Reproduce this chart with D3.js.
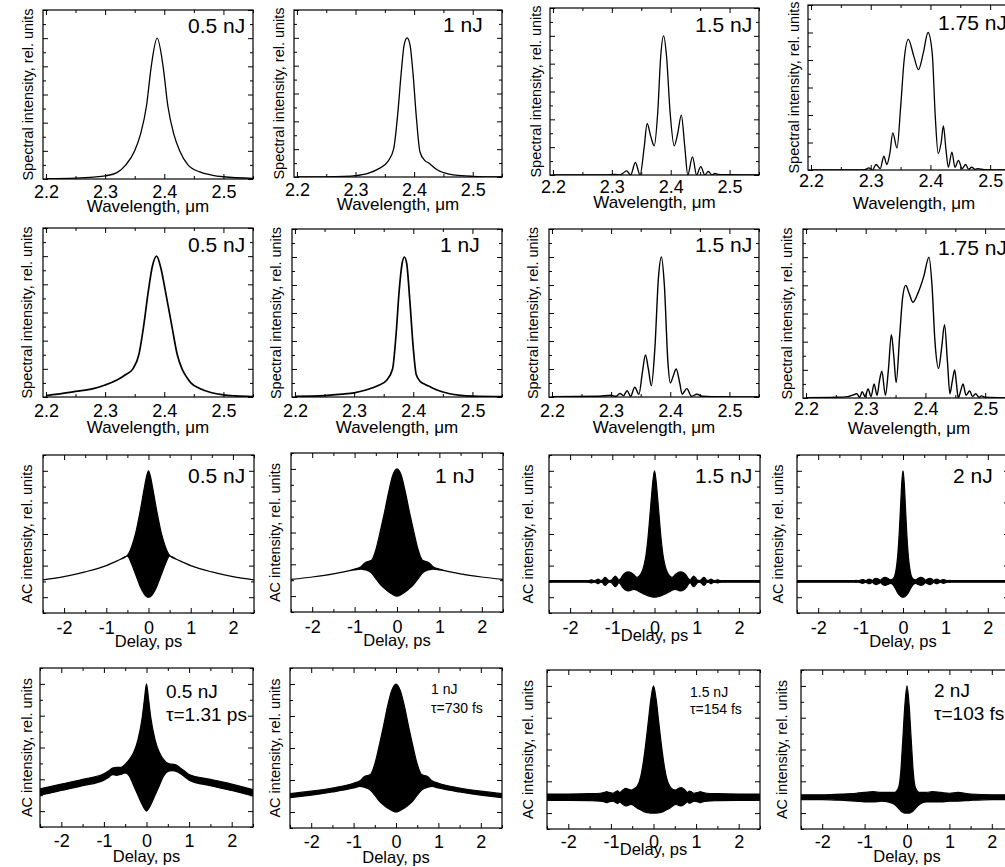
<!DOCTYPE html>
<html><head><meta charset="utf-8">
<script src="https://cdn.jsdelivr.net/npm/d3@7"></script>
<style>body{margin:0;background:#fff}svg{display:block;font-family:"Liberation Sans",Arial,sans-serif}</style>
</head><body><svg id="c" width="1005" height="867"></svg>
<script>
// ---------- tick labels ----------
const wlTicks = [2.2, 2.3, 2.4, 2.5];
const wlMinor = [2.25, 2.35, 2.45, 2.55];
const delayTicks = [-2, -1, 0, 1, 2];
const delayMinor = [-2.5, -1.5, -0.5, 0.5, 1.5, 2.5];
const specYMajor = [0, 0.2, 0.4, 0.6, 0.8, 1.0, 1.2];
const specYMinor = [0.1, 0.3, 0.5, 0.7, 0.9, 1.1];
const acYMajor = [0, 2, 4, 6, 8];
const acYMinor = [-1, 1, 3, 5, 7, 9];

// ---------- row 1: calculated spectra ----------
const calc05_wl = [2.20,2.25,2.28,2.30,2.32,2.335,2.35,2.36,2.37,2.378,2.388,2.398,2.406,2.416,2.426,2.44,2.46,2.48,2.50,2.55];
const calc05_I  = [0.002,0.006,0.013,0.022,0.045,0.1,0.2,0.32,0.52,0.8,1.0,0.8,0.52,0.32,0.2,0.1,0.05,0.028,0.016,0.005];
const calc10_wl = [2.20,2.28,2.30,2.32,2.34,2.355,2.365,2.372,2.378,2.383,2.388,2.393,2.398,2.404,2.41,2.418,2.425,2.44,2.46,2.48,2.50,2.55];
const calc10_I  = [0.0,0.005,0.01,0.025,0.06,0.11,0.2,0.45,0.75,0.95,1.0,0.95,0.75,0.42,0.18,0.12,0.1,0.05,0.02,0.01,0.005,0.0];
const calc15_wl = [2.20,2.29,2.305,2.313,2.318,2.325,2.332,2.34,2.348,2.355,2.36,2.366,2.372,2.378,2.383,2.388,2.393,2.399,2.406,2.412,2.418,2.424,2.429,2.437,2.444,2.451,2.458,2.464,2.47,2.475,2.48,2.49,2.55];
const calc15_I  = [0,0,0.005,0.0,0.01,0.03,0.0,0.09,0.0,0.2,0.37,0.28,0.21,0.45,0.85,1.0,0.85,0.45,0.21,0.3,0.43,0.2,0.0,0.13,0.0,0.06,0.0,0.025,0.0,0.012,0.005,0.002,0];
const calc175_wl = [2.20,2.28,2.29,2.297,2.303,2.309,2.316,2.322,2.327,2.332,2.337,2.344,2.35,2.356,2.363,2.372,2.380,2.388,2.396,2.403,2.408,2.413,2.418,2.4217,2.426,2.430,2.436,2.441,2.447,2.453,2.459,2.464,2.469,2.475,2.48,2.49,2.55];
const calc175_I  = [0,0,0.002,0.015,0.0,0.04,0.01,0.1,0.04,0.12,0.27,0.16,0.45,0.8,0.95,0.83,0.73,0.85,1.0,0.85,0.4,0.12,0.2,0.32,0.15,0.02,0.13,0.02,0.07,0.01,0.04,0.005,0.02,0.005,0.01,0.003,0];

// ---------- row 2: measured spectra ----------
const meas05_wl = [2.20,2.22,2.25,2.28,2.30,2.32,2.335,2.347,2.357,2.365,2.373,2.38,2.387,2.394,2.402,2.413,2.422,2.43,2.438,2.445,2.46,2.48,2.50,2.52,2.55];
const meas05_I  = [0.01,0.02,0.04,0.06,0.085,0.12,0.16,0.2,0.3,0.5,0.75,0.93,1.0,0.92,0.75,0.5,0.3,0.2,0.14,0.1,0.06,0.03,0.015,0.008,0.003];
const meas10_wl = [2.20,2.25,2.28,2.30,2.32,2.34,2.355,2.365,2.371,2.376,2.381,2.385,2.389,2.394,2.40,2.405,2.412,2.42,2.43,2.44,2.46,2.48,2.50,2.55];
const meas10_I  = [0.005,0.01,0.02,0.03,0.05,0.08,0.12,0.2,0.45,0.75,0.95,1.0,0.95,0.7,0.35,0.16,0.11,0.09,0.07,0.05,0.025,0.012,0.006,0.002];
const meas15_wl = [2.20,2.28,2.30,2.308,2.315,2.321,2.327,2.333,2.34,2.347,2.353,2.358,2.363,2.368,2.374,2.38,2.385,2.39,2.396,2.40,2.405,2.41,2.416,2.42,2.428,2.436,2.445,2.455,2.47,2.55];
const meas15_I  = [0.002,0.005,0.012,0.005,0.025,0.01,0.045,0.005,0.07,0.02,0.18,0.3,0.2,0.08,0.35,0.85,1.0,0.8,0.25,0.1,0.15,0.2,0.1,0.02,0.06,0.005,0.02,0.005,0.002,0];
const meas175_wl = [2.20,2.25,2.27,2.278,2.285,2.29,2.294,2.299,2.304,2.309,2.314,2.319,2.323,2.327,2.333,2.338,2.343,2.347,2.351,2.357,2.362,2.367,2.373,2.379,2.388,2.397,2.406,2.411,2.416,2.422,2.427,2.432,2.437,2.441,2.445,2.449,2.452,2.455,2.459,2.463,2.468,2.474,2.479,2.484,2.49,2.494,2.50,2.55];
const meas175_I  = [0.002,0.005,0.01,0.02,0.03,0.005,0.045,0.01,0.065,0.01,0.1,0.02,0.12,0.19,0.02,0.2,0.45,0.3,0.11,0.45,0.72,0.8,0.74,0.68,0.75,0.86,1.0,0.8,0.4,0.21,0.35,0.52,0.25,0.03,0.12,0.2,0.1,0.0,0.05,0.1,0.02,0.05,0.01,0.03,0.005,0.015,0.005,0];

// ---------- row 3: calculated autocorrelations (upper / lower envelopes) ----------
const acCalc05_t  = [-2.5,-2,-1.5,-1,-0.7,-0.5,-0.4,-0.3,-0.2,-0.1,-0.05,0,0.05,0.1,0.2,0.3,0.4,0.5,0.7,1,1.5,2,2.5];
const acCalc05_up = [1.1,1.3,1.6,2.0,2.35,2.65,3.2,4.1,5.4,6.9,7.6,8.0,7.6,6.9,5.4,4.1,3.2,2.65,2.35,2.0,1.6,1.3,1.1];
const acCalc05_lo = [1.1,1.3,1.6,2.0,2.35,2.6,2.1,1.4,0.7,0.2,0.05,0,0.05,0.2,0.7,1.4,2.1,2.6,2.35,2.0,1.6,1.3,1.1];
const acCalc10_t  = [-2.5,-2,-1.5,-1,-0.85,-0.75,-0.65,-0.6,-0.5,-0.4,-0.3,-0.2,-0.1,0,0.1,0.2,0.3,0.4,0.5,0.6,0.65,0.75,0.85,1,1.5,2,2.5];
const acCalc10_up = [1.05,1.2,1.4,1.7,1.85,2.1,2.2,2.25,2.9,4.0,5.2,6.5,7.6,8.0,7.6,6.5,5.2,4.0,2.9,2.25,2.2,2.1,1.85,1.7,1.4,1.2,1.05];
const acCalc10_lo = [1.05,1.2,1.4,1.65,1.7,1.65,1.55,1.45,1.1,0.75,0.5,0.27,0.1,0,0.1,0.27,0.5,0.75,1.1,1.45,1.55,1.65,1.7,1.65,1.4,1.2,1.05];
const acCalc15_t  = [-2.5,-1.8,-1.6,-1.53,-1.5,-1.47,-1.41,-1.37,-1.34,-1.31,-1.27,-1.23,-1.2,-1.17,-1.14,-1.1,-1.06,-1.02,-0.98,-0.93,-0.88,-0.85,-0.81,-0.75,-0.69,-0.62,-0.55,-0.48,-0.42,-0.36,-0.3,-0.25,-0.2,-0.16,-0.12,-0.08,-0.04,0,0.04,0.08,0.12,0.16,0.2,0.25,0.3,0.36,0.42,0.48,0.55,0.62,0.69,0.75,0.81,0.85,0.88,0.93,0.98,1.02,1.06,1.1,1.14,1.17,1.2,1.23,1.27,1.31,1.34,1.37,1.41,1.47,1.5,1.53,1.6,1.8,2.5];
const acCalc15_up = [1.05,1.05,1.05,1.07,1.1,1.08,1.05,1.1,1.15,1.1,1.05,1.08,1.2,1.25,1.2,1.08,1.05,1.08,1.2,1.33,1.2,1.08,1.15,1.4,1.55,1.6,1.55,1.4,1.25,1.35,1.6,2.0,2.7,3.6,4.8,6.1,7.3,8.0,7.3,6.1,4.8,3.6,2.7,2.0,1.6,1.35,1.25,1.4,1.55,1.6,1.55,1.4,1.15,1.08,1.2,1.33,1.2,1.08,1.05,1.08,1.2,1.25,1.2,1.08,1.05,1.1,1.15,1.1,1.05,1.08,1.1,1.07,1.05,1.05,1.05];
const acCalc15_lo = [0.95,0.95,0.95,0.93,0.9,0.92,0.95,0.9,0.85,0.9,0.95,0.92,0.8,0.75,0.8,0.92,0.95,0.92,0.8,0.67,0.8,0.92,0.85,0.6,0.45,0.4,0.45,0.5,0.45,0.35,0.27,0.2,0.14,0.1,0.06,0.03,0.01,0,0.01,0.03,0.06,0.1,0.14,0.2,0.27,0.35,0.45,0.5,0.45,0.4,0.45,0.6,0.85,0.92,0.8,0.67,0.8,0.92,0.95,0.92,0.8,0.75,0.8,0.92,0.95,0.9,0.85,0.9,0.95,0.92,0.9,0.93,0.95,0.95,0.95];
const acCalc20_t  = [-2.5,-1.5,-1.2,-1.1,-1.05,-1.0,-0.96,-0.92,-0.88,-0.84,-0.8,-0.76,-0.72,-0.68,-0.63,-0.58,-0.53,-0.48,-0.42,-0.36,-0.3,-0.24,-0.19,-0.15,-0.12,-0.09,-0.06,-0.03,0,0.03,0.06,0.09,0.12,0.15,0.19,0.24,0.3,0.36,0.42,0.48,0.53,0.58,0.63,0.68,0.72,0.76,0.8,0.84,0.88,0.92,0.96,1.0,1.05,1.1,1.2,1.5,2.5];
const acCalc20_up = [1.05,1.05,1.05,1.06,1.05,1.08,1.12,1.1,1.05,1.1,1.15,1.12,1.06,1.15,1.2,1.15,1.08,1.2,1.25,1.2,1.1,1.15,1.4,2.0,2.8,4.0,5.6,7.2,8.0,7.2,5.6,4.0,2.8,2.0,1.4,1.15,1.1,1.2,1.25,1.2,1.08,1.15,1.2,1.15,1.06,1.12,1.15,1.1,1.05,1.1,1.12,1.08,1.05,1.06,1.05,1.05,1.05];
const acCalc20_lo = [0.95,0.95,0.95,0.94,0.95,0.92,0.88,0.9,0.95,0.9,0.85,0.88,0.94,0.85,0.8,0.85,0.92,0.8,0.75,0.8,0.88,0.8,0.6,0.4,0.25,0.15,0.08,0.02,0,0.02,0.08,0.15,0.25,0.4,0.6,0.8,0.88,0.8,0.75,0.8,0.92,0.85,0.8,0.85,0.94,0.88,0.85,0.9,0.95,0.9,0.88,0.92,0.95,0.94,0.95,0.95,0.95];

// ---------- row 4: measured autocorrelations (noise band envelopes) ----------
const acMeas05_t  = [-2.5,-2,-1.5,-1,-0.9,-0.8,-0.7,-0.6,-0.5,-0.4,-0.3,-0.2,-0.1,-0.05,0,0.05,0.1,0.2,0.3,0.4,0.5,0.6,0.7,0.8,0.9,1,1.5,2,2.5];
const acMeas05_up = [1.4,1.7,2.0,2.35,2.5,2.7,2.75,2.75,2.95,3.25,3.7,4.5,5.9,7.0,8.0,7.0,5.9,4.5,3.7,3.25,3.0,2.95,2.9,2.7,2.5,2.3,2.0,1.7,1.35];
const acMeas05_lo = [1.0,1.3,1.6,1.95,2.1,2.3,2.25,2.3,2.4,2.2,1.6,1.0,0.4,0.15,0,0.15,0.4,1.0,1.6,2.2,2.5,2.55,2.5,2.35,2.15,1.95,1.6,1.3,0.95];
const acMeas10_t  = [-2.5,-2,-1.5,-1,-0.85,-0.75,-0.65,-0.6,-0.5,-0.4,-0.3,-0.2,-0.1,0,0.1,0.2,0.3,0.4,0.5,0.6,0.65,0.75,0.85,1,1.5,2,2.5];
const acMeas10_up = [1.15,1.3,1.5,1.8,1.95,2.2,2.3,2.35,3.0,4.1,5.3,6.6,7.6,8.0,7.6,6.6,5.3,4.1,3.0,2.35,2.3,2.2,1.95,1.8,1.5,1.3,1.15];
const acMeas10_lo = [0.9,1.05,1.25,1.5,1.6,1.55,1.45,1.35,1.05,0.7,0.45,0.25,0.1,0,0.1,0.25,0.45,0.7,1.05,1.35,1.45,1.55,1.6,1.5,1.25,1.05,0.9];
const acMeas15_t  = [-2.5,-2,-1.5,-1.25,-1.15,-1.1,-1.05,-0.95,-0.88,-0.84,-0.8,-0.72,-0.65,-0.58,-0.52,-0.45,-0.38,-0.3,-0.24,-0.18,-0.12,-0.06,0,0.06,0.12,0.18,0.24,0.3,0.38,0.45,0.52,0.58,0.65,0.72,0.8,0.84,0.88,0.95,1.05,1.1,1.15,1.25,1.5,2,2.5];
const acMeas15_up = [1.2,1.2,1.22,1.25,1.3,1.35,1.3,1.25,1.35,1.4,1.3,1.45,1.55,1.5,1.45,1.55,1.7,2.3,3.2,4.4,5.8,7.2,8.0,7.2,5.8,4.4,3.2,2.3,1.7,1.5,1.45,1.55,1.6,1.5,1.3,1.38,1.35,1.25,1.3,1.35,1.3,1.25,1.22,1.2,1.2];
const acMeas15_lo = [0.8,0.8,0.78,0.75,0.7,0.65,0.7,0.75,0.65,0.6,0.7,0.55,0.45,0.5,0.55,0.45,0.3,0.2,0.1,0.05,0.02,0.0,0,0.0,0.02,0.05,0.1,0.2,0.3,0.45,0.55,0.5,0.45,0.55,0.7,0.62,0.65,0.75,0.7,0.65,0.7,0.75,0.78,0.8,0.8];
const acMeas20_t  = [-2.5,-2,-1.5,-1.2,-1,-0.8,-0.6,-0.45,-0.3,-0.2,-0.15,-0.1,-0.05,0,0.05,0.1,0.15,0.2,0.3,0.45,0.6,0.8,1,1.2,1.5,2,2.5];
const acMeas20_up = [1.15,1.15,1.2,1.25,1.3,1.35,1.3,1.3,1.3,1.6,2.5,4.6,6.8,8.0,6.8,4.6,2.5,1.6,1.3,1.3,1.35,1.3,1.25,1.3,1.2,1.15,1.15];
const acMeas20_lo = [0.85,0.85,0.8,0.75,0.7,0.7,0.75,0.7,0.55,0.3,0.15,0.05,0.0,0.0,0.0,0.05,0.15,0.3,0.55,0.7,0.7,0.7,0.75,0.75,0.8,0.85,0.85];

// ---------- annotations ----------
const specLabels = ['0.5 nJ', '1 nJ', '1.5 nJ', '1.75 nJ'];
const acLabels = ['0.5 nJ', '1 nJ', '1.5 nJ', '2 nJ'];
const durLabels = ['\u03c4=1.31 ps', '\u03c4=730 fs', '\u03c4=154 fs', '\u03c4=103 fs'];

// ---------- layout (positions only) ----------
const FONT = '"Liberation Sans", Arial, sans-serif';
const svg = d3.select('#c');
const zip2 = (a, b) => a.map((v, i) => ({x: v, y: b[i]}));
const zip3 = (t, u, l) => t.map((v, i) => ({t: v, up: u[i], lo: l[i]}));

const panels = [
  {r:[43,10,210,169], kind:'spec', d:zip2(calc05_wl,calc05_I), lab:[specLabels[0]], lx:188, ly:[33], fs:21, tb:19, tt:33, yt:-10, sw:1.3},
  {r:[294,10,208,167], kind:'spec', d:zip2(calc10_wl,calc10_I), lab:[specLabels[1]], lx:443, ly:[32], fs:21, tb:19, tt:33, yt:-10, sw:1.3},
  {r:[550,8,209,167], kind:'spec', d:zip2(calc15_wl,calc15_I), lab:[specLabels[2]], lx:695, ly:[32], fs:21, tb:18, tt:33, yt:-9, sw:1.3},
  {r:[808,5,212,165], kind:'spec', d:zip2(calc175_wl,calc175_I), lab:[specLabels[3]], lx:938, ly:[30], fs:21, tb:17, tt:39, yt:-9, sw:1.3},
  {r:[43,228,210,169], kind:'spec', d:zip2(meas05_wl,meas05_I), lab:[specLabels[0]], lx:188, ly:[252], fs:21, tb:20, tt:36, yt:-11, sw:1.7},
  {r:[292,229,210,168], kind:'spec', d:zip2(meas10_wl,meas10_I), lab:[specLabels[1]], lx:440, ly:[252], fs:21, tb:20, tt:36, yt:-11, sw:1.7},
  {r:[549,229,210,168], kind:'spec', d:zip2(meas15_wl,meas15_I), lab:[specLabels[2]], lx:695, ly:[252], fs:21, tb:20, tt:36, yt:-11, sw:1.4},
  {r:[803,229,212,169], kind:'spec', d:zip2(meas175_wl,meas175_I), lab:[specLabels[3]], lx:938, ly:[255], fs:21, tb:17, tt:36, yt:-11, sw:1.4},
  {r:[43,455,211,158], kind:'ac', d:zip3(acCalc05_t,acCalc05_up,acCalc05_lo), lab:[acLabels[0]], lx:188, ly:[483], fs:21, tb:21, tt:34, yt:-11},
  {r:[291,453,212,159], kind:'ac', d:zip3(acCalc10_t,acCalc10_up,acCalc10_lo), lab:[acLabels[1]], lx:435, ly:[483], fs:21, tb:21, tt:34, yt:-11},
  {r:[549,455,211,158], kind:'ac', d:zip3(acCalc15_t,acCalc15_up,acCalc15_lo), lab:[acLabels[2]], lx:695, ly:[483], fs:21, tb:21, tt:28, yt:-16},
  {r:[797,455,212,158], kind:'ac', d:zip3(acCalc20_t,acCalc20_up,acCalc20_lo), lab:[acLabels[3]], lx:953, ly:[483], fs:21, tb:21, tt:34, yt:-14},
  {r:[40,668,213,159], kind:'ac', d:zip3(acMeas05_t,acMeas05_up,acMeas05_lo), lab:[acLabels[0],durLabels[0]], lx:166, ly:[698,721], fs:19, tb:20, tt:35, yt:-8},
  {r:[290,668,212,160], kind:'ac', d:zip3(acMeas10_t,acMeas10_up,acMeas10_lo), lab:[acLabels[1],durLabels[1]], lx:431, ly:[694,713], fs:14, tb:20, tt:35, yt:-10},
  {r:[547,670,213,159], kind:'ac', d:zip3(acMeas15_t,acMeas15_up,acMeas15_lo), lab:[acLabels[2],durLabels[2]], lx:690, ly:[697,714], fs:14, tb:19, tt:26, yt:-14},
  {r:[801,670,212,159], kind:'ac', d:zip3(acMeas20_t,acMeas20_up,acMeas20_lo), lab:[acLabels[3],durLabels[3]], lx:934, ly:[697,720], fs:19, tb:19, tt:33, yt:-14}
];

panels.forEach((p, i) => {
  const [px, py, w, h] = p.r;
  const g = svg.append('g').attr('transform', `translate(${px},${py})`);
  const spec = p.kind === 'spec';
  const x = d3.scaleLinear().domain(spec ? [2.195, 2.55] : [-2.5, 2.5]).range([0, w]);
  const y = d3.scaleLinear().domain(spec ? [0, 1.2] : [-1, 9]).range([h, 0]);
  const cid = 'clip' + i;
  g.append('clipPath').attr('id', cid).append('rect').attr('width', w).attr('height', h);
  const dg = g.append('g').attr('clip-path', `url(#${cid})`);
  if (spec) {
    dg.append('path').datum(p.d)
      .attr('d', d3.line().x(d => x(d.x)).y(d => y(d.y)).curve(d3.curveMonotoneX))
      .attr('fill', 'none').attr('stroke', '#000').attr('stroke-width', p.sw).attr('stroke-linejoin', 'round');
  } else {
    dg.append('path').datum(p.d)
      .attr('d', d3.area().x(d => x(d.t)).y0(d => y(d.lo)).y1(d => y(d.up)).curve(d3.curveMonotoneX))
      .attr('fill', '#000').attr('stroke', '#000').attr('stroke-width', 1.2);
  }
  const xt = spec ? wlTicks : delayTicks, xm = spec ? wlMinor : delayMinor;
  const ytM = spec ? specYMajor : acYMajor, ytm = spec ? specYMinor : acYMinor;
  const fmt = spec ? d3.format('.1f') : (d => String(d));
  const ax = (gen, tv, size, tf) => gen.tickValues(tv).tickSize(size).tickSizeOuter(0).tickFormat(tf);
  const noLab = () => '';
  const gb = g.append('g').attr('transform', `translate(0,${h})`).call(ax(d3.axisBottom(x), xt, -5, fmt).tickPadding(p.tb - 13));
  g.append('g').attr('transform', `translate(0,${h})`).call(ax(d3.axisBottom(x), xm, -3, noLab));
  g.append('g').call(ax(d3.axisTop(x), xt, -5, noLab));
  g.append('g').call(ax(d3.axisTop(x), xm, -3, noLab));
  g.append('g').call(ax(d3.axisLeft(y), ytM, -5, noLab));
  g.append('g').call(ax(d3.axisLeft(y), ytm, -3, noLab));
  g.append('g').attr('transform', `translate(${w},0)`).call(ax(d3.axisRight(y), ytM, -5, noLab));
  g.append('g').attr('transform', `translate(${w},0)`).call(ax(d3.axisRight(y), ytm, -3, noLab));
  g.selectAll('.domain').remove();
  g.selectAll('.tick line').attr('stroke', '#000').attr('stroke-width', 1);
  gb.selectAll('text').attr('font-size', 18).attr('font-family', FONT).attr('fill', '#000');
  g.append('rect').attr('width', w).attr('height', h).attr('fill', 'none').attr('stroke', '#000').attr('stroke-width', 1.2);
  g.append('text').attr('x', w / 2).attr('y', h + p.tt).attr('text-anchor', 'middle').attr('font-family', FONT)
    .attr('font-size', spec ? 17 : 16.5).text(spec ? 'Wavelength, \u03bcm' : 'Delay, ps');
  g.append('text').attr('transform', `translate(${p.yt},${h / 2}) rotate(-90)`).attr('text-anchor', 'middle').attr('font-family', FONT)
    .attr('font-size', 14.5).text(spec ? 'Spectral intensity, rel. units' : 'AC intensity, rel. units');
  p.lab.forEach((s, k) => {
    svg.append('text').attr('x', p.lx).attr('y', p.ly[k]).attr('font-size', p.fs).attr('font-family', FONT).text(s);
  });
});
</script></body></html>
